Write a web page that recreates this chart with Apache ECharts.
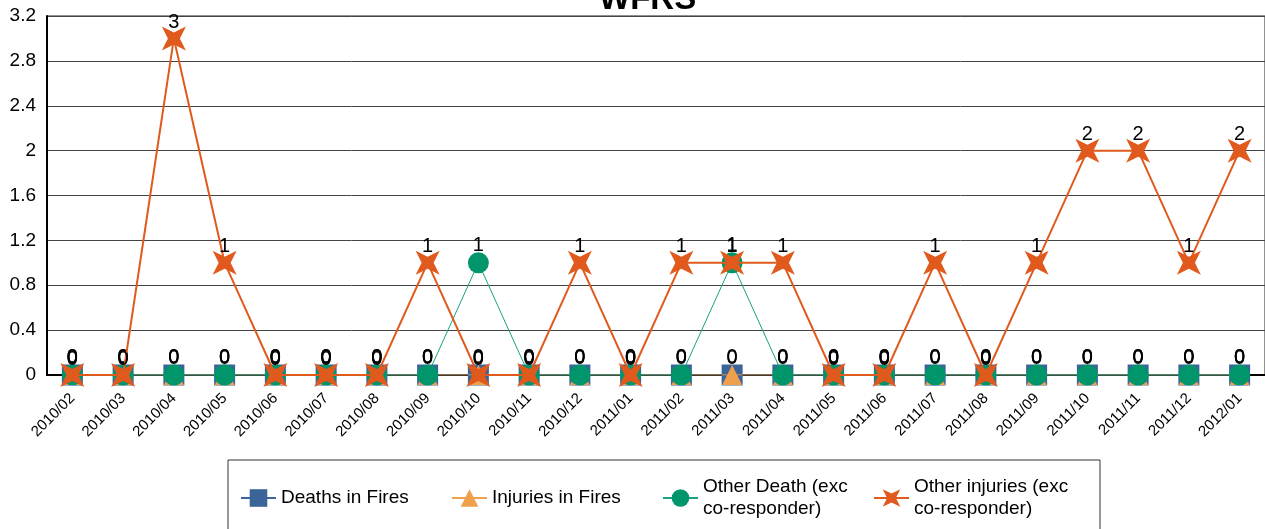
<!DOCTYPE html>
<html>
	<head>
		<meta charset="utf-8">
		<title>WFRS</title>
		<script src="https://cdn.jsdelivr.net/npm/echarts@6/dist/echarts.min.js"></script>
	</head>
	<body style="margin:0">
		<div id="box" style="width: 1265px;height: 529px;"></div>
		<script>
			var mCharts = echarts.init(document.querySelector('#box'))

			// months
			var months = ['2010/02', '2010/03', '2010/04', '2010/05', '2010/06', '2010/07', '2010/08', '2010/09',
				'2010/10', '2010/11', '2010/12', '2011/01', '2011/02', '2011/03', '2011/04', '2011/05',
				'2011/06', '2011/07', '2011/08', '2011/09', '2011/10', '2011/11', '2011/12', '2012/01']

			var deathsInFires = [0, 0, 0, 0, 0, 0, 0, 0, 0, 0, 0, 0, 0, 0, 0, 0, 0, 0, 0, 0, 0, 0, 0, 0]
			var injuriesInFires = [0, 0, 0, 0, 0, 0, 0, 0, 0, 0, 0, 0, 0, 0, 0, 0, 0, 0, 0, 0, 0, 0, 0, 0]
			var otherDeath = [0, 0, 0, 0, 0, 0, 0, 0, 1, 0, 0, 0, 0, 1, 0, 0, 0, 0, 0, 0, 0, 0, 0, 0]
			var otherInjuries = [0, 0, 3, 1, 0, 0, 0, 1, 0, 0, 1, 0, 1, 1, 1, 0, 0, 1, 0, 1, 2, 2, 1, 2]

			var yTicks = [0, 0.4, 0.8, 1.2, 1.6, 2, 2.4, 2.8, 3.2]

			// 4 pointed star, points on the corners
			var star = 'path://M0,0 L10,5 L20,0 L15,10 L20,20 L10,15 L0,20 L5,10 Z'

			var font = 'Liberation Sans'

			function lbl(dist) {
				return {
					show: true,
					position: 'top',
					distance: dist,
					color: '#000',
					fontFamily: font,
					fontSize: 20
				}
			}

			var option = {
				animation: false,
				textStyle: { fontFamily: font },
				title: {
					text: 'WFRS',
					left: 594,
					top: -22,
					textStyle: { fontFamily: font, fontSize: 33, fontWeight: 'bold', color: '#000' }
				},
				grid: {
					left: 47,
					top: 16,
					width: 1227,
					height: 359,
					show: true,
					borderColor: '#222',
					borderWidth: 1
				},
				legend: {
					left: 228,
					top: 460,
					width: 868,
					padding: [16, 16, 16, 12],
					borderColor: '#333',
					borderWidth: 1,
					itemGap: 0,
					itemWidth: 35,
					itemHeight: 22,
					textStyle: { fontFamily: font, fontSize: 19, color: '#000', width: 170, lineHeight: 22 },
					formatter: function (name) {
						return name.replace(' (exc ', ' (exc\n')
					},
					data: ['Deaths in Fires', 'Injuries in Fires', 'Other Death (exc co-responder)', 'Other injuries (exc co-responder)']
				},
				xAxis: {
					type: 'category',
					data: months,
					boundaryGap: true,
					axisLine: { lineStyle: { color: '#000', width: 2 } },
					axisTick: { show: false },
					axisLabel: { rotate: 45, color: '#000', fontSize: 15, margin: 21, interval: 0 }
				},
				yAxis: {
					type: 'value',
					min: 0,
					max: 3.2,
					interval: 0.4,
					axisLine: { show: true, lineStyle: { color: '#000', width: 2 } },
					axisTick: { show: false },
					axisLabel: {
						color: '#000',
						fontSize: 19,
						margin: 11,
						formatter: function (v) {
							var t = yTicks.find(function (x) { return Math.abs(x - v) < 1e-6 })
							return String(t)
						}
					},
					splitLine: { lineStyle: { color: '#444', width: 1 } }
				},
				series: [
					{
						name: 'Deaths in Fires',
						type: 'line',
						data: deathsInFires,
						symbol: 'rect',
						symbolSize: 21,
						itemStyle: { color: '#3B6499' },
						lineStyle: { color: '#3B6499', width: 1 },
						label: lbl(-3),
						z: 2
					},
					{
						name: 'Injuries in Fires',
						type: 'line',
						data: injuriesInFires,
						symbol: 'triangle',
						symbolSize: 20,
						itemStyle: { color: '#F0A04B' },
						lineStyle: { color: '#F0A04B', width: 1 },
						label: lbl(-3),
						z: 3
					},
					{
						name: 'Other Death (exc co-responder)',
						type: 'line',
						data: otherDeath,
						symbol: 'circle',
						symbolSize: 21,
						itemStyle: { color: '#00956B' },
						lineStyle: { color: '#1BA082', width: 1 },
						label: lbl(-3),
						z: 4
					},
					{
						name: 'Other injuries (exc co-responder)',
						type: 'line',
						data: otherInjuries,
						symbol: star,
						symbolSize: 24,
						itemStyle: { color: '#E05A1E' },
						lineStyle: { color: '#E05A1E', width: 2 },
						label: lbl(-6),
						z: 5
					}
				]
			}
			mCharts.setOption(option)
		</script>
	</body>
</html>
